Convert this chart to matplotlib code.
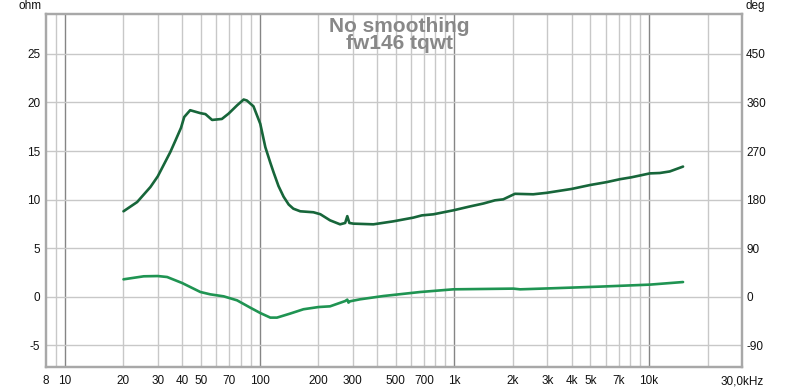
import matplotlib
matplotlib.use("Agg")
import matplotlib.pyplot as plt
import numpy as np

plt.rcParams['font.family'] = ['Liberation Sans', 'DejaVu Sans']

# Impedance magnitude (ohm)
imp_freq = [20, 23.5, 27.5, 30, 34.8, 37, 39.5, 41, 44, 49.6, 52.7, 57, 64, 69.3, 76.6,
            82.8, 86, 93, 100.8, 107, 113.5, 118, 125, 132.8, 141, 149, 161.7, 189, 205,
            230, 259, 275, 282, 289, 303, 384, 487, 616, 681, 780, 988, 1203, 1409,
            1617, 1783, 2047, 2541, 2977, 4000, 4966, 6047, 7080, 8128, 10090, 11350,
            12770, 14940]
imp_ohm = [8.8, 9.75, 11.3, 12.4, 14.9, 16.1, 17.4, 18.5, 19.2, 18.9, 18.8, 18.2, 18.3,
           18.85, 19.7, 20.3, 20.2, 19.6, 17.8, 15.4, 13.8, 12.8, 11.4, 10.3, 9.5, 9.07,
           8.8, 8.7, 8.5, 7.87, 7.46, 7.6, 8.3, 7.6, 7.53, 7.46, 7.77, 8.15, 8.38, 8.49,
           8.9, 9.3, 9.6, 9.93, 10.03, 10.6, 10.55, 10.7, 11.1, 11.5, 11.8, 12.1, 12.3,
           12.7, 12.74, 12.9, 13.4]

# Impedance phase (deg)
ph_freq = [20, 25.4, 30, 33.5, 40, 49.6, 55.8, 65.4, 76.6, 89.5, 100.8, 113.5, 122.8,
           143.6, 168, 200.7, 230, 275, 282, 286, 291, 328, 432, 667, 988, 2009, 2175,
           3097, 5590, 10090, 14940]
ph_deg = [32.4, 38, 38.5, 36.7, 25.6, 9, 4.6, 0.9, -6.5, -20, -30, -38.5, -38.5, -31,
          -23, -18.9, -17.6, -7.8, -5.2, -10.7, -8.3, -4.6, 1.5, 8.9, 13.9, 15.2, 13.9,
          15.7, 18.9, 22.6, 27.4]

xtick_vals = [8, 10, 20, 30, 40, 50, 70, 100, 200, 300, 500, 700, 1000, 2000, 3000,
              4000, 5000, 7000, 10000, 30000]
xtick_labels = ['8', '10', '20', '30', '40', '50', '70', '100', '200', '300', '500',
                '700', '1k', '2k', '3k', '4k', '5k', '7k', '10k', '30,0kHz']
ohm_ticks = [-5, 0, 5, 10, 15, 20, 25]
deg_ticks = [-90, 0, 90, 180, 270, 360, 450]

fig = plt.figure(figsize=(8, 3.88), dpi=100)
ax = fig.add_axes([46/800, 1-367/388, (742-46)/800, (367-14)/388])
ax.set_xscale('log')
ax.set_xlim(8, 30000)
ylo, yhi = -7.22, 29.1
ax.set_ylim(ylo, yhi)

# grid
for dec in [1, 10, 100, 1000, 10000]:
    for m in range(1, 10):
        f = dec * m
        if f < 9 or f > 20000:
            continue
        if m == 1:
            ax.axvline(f, color='#858585', lw=1.0, zorder=1)
        else:
            ax.axvline(f, color='#c8c8c8', lw=1.0, zorder=1)
for t in ohm_ticks:
    ax.axhline(t, color='#c8c8c8', lw=1.0, zorder=1)

ax.plot(imp_freq, imp_ohm, color='#17663a', lw=1.9, zorder=3, solid_capstyle='round')

ax2 = ax.twinx()
ax2.set_ylim(ylo*18, yhi*18)
ax2.plot(ph_freq, ph_deg, color='#1f9452', lw=1.9, zorder=3, solid_capstyle='round')

ax.set_xticks(xtick_vals)
ax.set_xticklabels(xtick_labels)
ax.xaxis.set_minor_locator(matplotlib.ticker.NullLocator())
ax.set_yticks(ohm_ticks)
ax.set_yticklabels([str(t) for t in ohm_ticks])
ax2.set_yticks(deg_ticks)
ax2.set_yticklabels([str(t) for t in deg_ticks])

ax.tick_params(axis='both', length=0, labelsize=8.5, colors='#111111', pad=4)
ax.tick_params(axis='x', pad=6)
ax2.tick_params(axis='y', length=0, labelsize=8.5, colors='#111111', pad=3)

for a in (ax, ax2):
    for s in a.spines.values():
        s.set_color('#a8a8a8')
        s.set_linewidth(1.6)

fig.text(42/800, 1-9/388, 'ohm', ha='right', va='baseline', fontsize=8.5, color='#111111')
fig.text(745/800, 1-9/388, 'deg', ha='left', va='baseline', fontsize=8.5, color='#111111')

fig.text(399/800, 1-49/388, 'No smoothing\nfw146 tqwt', ha='center', va='baseline',
         multialignment='center', linespacing=0.85,
         fontsize=15, fontweight='bold', color='#888888')

fig.savefig('out.png', dpi=100)
